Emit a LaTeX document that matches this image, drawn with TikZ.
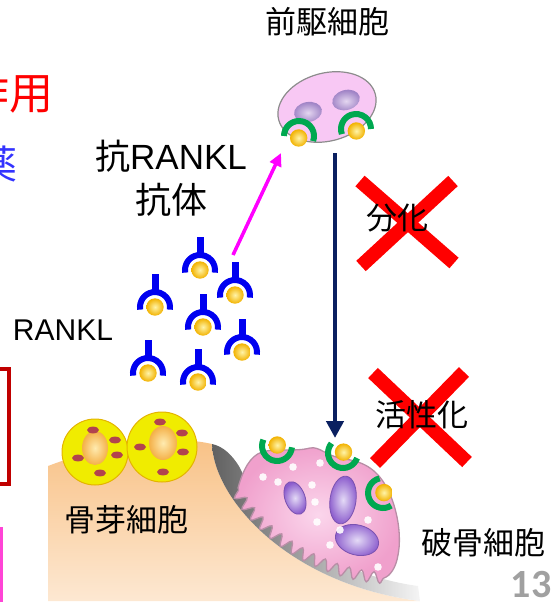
\documentclass[tikz,border=0pt]{standalone}
\usepackage{fontspec}
\setmainfont{Liberation Sans}
\newfontfamily\jp{Noto Sans CJK JP}
\newfontfamily\numfont{Carlito}
\usetikzlibrary{arrows.meta,decorations.pathmorphing}

\definecolor{abblue}{HTML}{0000F0}
\definecolor{rgreen}{HTML}{00A850}
\definecolor{ballin}{HTML}{FFF4A8}
\definecolor{ballout}{HTML}{F2B200}
\definecolor{navy}{HTML}{0A2060}
\definecolor{xred}{HTML}{FF0000}
\definecolor{boxred}{HTML}{C00000}
\definecolor{pink}{HTML}{FF44D6}
\definecolor{arrowmag}{HTML}{FF00FF}
\definecolor{precell}{HTML}{F8C8F4}
\definecolor{prenucin}{HTML}{E4D6F0}
\definecolor{prenucout}{HTML}{A084C6}
\definecolor{bonetop}{HTML}{F8C083}
\definecolor{bonebot}{HTML}{FDE8D2}
\definecolor{obfill}{HTML}{F0EC00}
\definecolor{obedge}{HTML}{E4B400}
\definecolor{obnucin}{HTML}{FFEBB0}
\definecolor{obnucout}{HTML}{F4B048}
\definecolor{obdot}{HTML}{B2434E}
\definecolor{ocin}{HTML}{FBD6EC}
\definecolor{ocout}{HTML}{F0A0CC}
\definecolor{ocedge}{HTML}{B88EA6}
\definecolor{ocnucin}{HTML}{E4DAF6}
\definecolor{ocnucout}{HTML}{8A5ACC}
\definecolor{ocnucedge}{HTML}{7A52B0}
\definecolor{pagenum}{HTML}{A0A0A0}

% receptor: green (or blue) half ring around a ligand ball; #3 = direction the opening faces
\newcommand\ligandring[5]{%
  \draw[#4, line width=6pt] (#1,#2) ++({#3+80}:15)
    arc[start angle={#3+80}, end angle={#3+280}, radius=15];
  \shade[inner color=ballin, outer color=ballout] (#1,#2) ++({#3}:#5) circle[radius=8.7];
}
% antibody: blue stem on top of a blue half ring holding a ligand ball
\newcommand\antibody[2]{%
  \fill[abblue] ({#1-3.5},{#2-33}) rectangle ({#1+3.5},{#2-16});
  \ligandring{#1}{#2}{90}{abblue}{0}
}

\begin{document}
\begin{tikzpicture}[x=1pt,y=-1pt,
  jptext/.style={font=\jp\fontsize{31pt}{36pt}\selectfont, inner sep=0pt},
  bigtext/.style={font=\fontsize{35pt}{42pt}\selectfont, inner sep=0pt},
  xmark/.style={xred, line width=14pt},
  navyarrow/.style={navy, line width=4.5pt, -{Triangle[length=17pt,width=17pt]}},
  pinkarrow/.style={arrowmag, line width=3.5pt, -{Triangle[length=13pt,width=12pt]}},
  whitedot/.style={white, opacity=0.9}]
\useasboundingbox (0,0) rectangle (551,607);

% ---- left margin fragments ----
\node[anchor=east, inner sep=0pt, text=xred, font=\jp\fontsize{44pt}{50pt}\selectfont] (sakuyo) at (54,93) {作用};
\node[anchor=east, inner sep=0pt, text=blue!80!white, font=\jp\fontsize{40pt}{46pt}\selectfont] (kusuri) at (18,164) {薬};
\draw[boxred, line width=4pt] (-60,369) rectangle (9,484);
\draw[pink, line width=3pt] (-60,528) rectangle (1.5,600);

% ---- bone ----
\shade[top color=bonetop, bottom color=bonebot]
  (48,601) -- (48,466) .. controls (90,450) and (160,432) .. (212,444)
  .. controls (214,500) and (290,585) .. (420,601) -- cycle;
% resorption surface under the osteoclast
\shade[left color=black!62, right color=black!4]
  (212,444) .. controls (214,500) and (290,585) .. (420,601)
  -- (418,586) .. controls (330,574) and (265,522) .. (240,468)
  .. controls (232,454) and (222,446) .. (212,444) -- cycle;

% ---- osteoblasts ----
\foreach \cx/\cy/\r in {95/452/33, 162/447/35}{
  \filldraw[fill=obfill, draw=obedge, line width=1pt] (\cx,\cy) circle[radius=\r];
}
\shade[inner color=obnucin, outer color=obnucout] (95,448) ellipse[x radius=13, y radius=17];
\shade[inner color=obnucin, outer color=obnucout] (163,443) ellipse[x radius=14, y radius=17];
\foreach \dx/\dy in {93/430, 115/440, 117/455, 78/458, 100/473,
                     160/422, 182/433, 140/447, 183/452, 163/472}{
  \fill[obdot] (\dx,\dy) ellipse[x radius=6, y radius=3.4];
}

% ---- osteoclast ----
\shadedraw[inner color=ocin, outer color=ocout, draw=ocedge, line width=1.3pt]
  (238,488) .. controls (243,470) and (250,456) .. (262,452)
  .. controls (275,448) and (295,452) .. (310,448)
  .. controls (320,446) and (325,456) .. (345,459)
  .. controls (365,462) and (378,470) .. (388,490)
  .. controls (397,508) and (402,535) .. (398,555)
  .. controls (396,568) and (390,576) .. (384,578)
  decorate[decoration={snake, amplitude=5.5pt, segment length=13pt}]
  { .. controls (330,575) and (265,540) .. (238,488) } -- cycle;
\foreach \nx/\ny/\rx/\ry/\rot in {295/498/10/17/20, 343/500/13/24/-8, 357/540/22/15/-15}{
  \shadedraw[inner color=ocnucin, outer color=ocnucout, draw=ocnucedge, line width=0.8pt,
    rotate around={\rot:(\nx,\ny)}] (\nx,\ny) ellipse[x radius=\rx, y radius=\ry];
}
\foreach \wx/\wy in {263/477, 278/482, 293/467, 320/463, 312/485, 315/502,
                     317/522, 340/530, 330/545, 368/520, 378/567}{
  \fill[whitedot] (\wx,\wy) circle[radius=3.8];
}
% RANK receptors with bound RANKL on the osteoclast
\ligandring{277}{446}{285}{rgreen}{1}
\ligandring{343}{453}{300}{rgreen}{1}
\ligandring{383}{493}{337}{rgreen}{1}

% ---- precursor cell ----
\filldraw[fill=precell, draw=black!45, line width=1.2pt, rotate around={15:(327,107)}]
  (327,107) ellipse[x radius=50, y radius=34];
\shade[inner color=prenucin, outer color=prenucout, rotate around={10:(308,112)}]
  (308,112) ellipse[x radius=14, y radius=10];
\shade[inner color=prenucin, outer color=prenucout, rotate around={15:(346,100)}]
  (346,100) ellipse[x radius=14, y radius=10];
\ligandring{299}{136}{100}{rgreen}{2}
\ligandring{356}{129}{80}{rgreen}{2}

% ---- free RANKL bound by antibodies ----
\antibody{200}{270}
\antibody{235}{295}
\antibody{155}{307}
\antibody{203}{327}
\antibody{242}{352}
\antibody{148}{373}
\antibody{198}{382}

% ---- blocked steps ----
\draw[xmark] (360,181) -- (454,263);
\draw[xmark] (453,181) -- (361,266);
\draw[xmark] (373,373) -- (467,462);
\draw[xmark] (464,372) -- (375,463);

% ---- arrows ----
\coordinate (abtop) at (233,255);
\coordinate (pretarget) at (281,153);
\draw[pinkarrow] (abtop) -- (pretarget);
\coordinate (prebottom) at (335,153);
\coordinate (octop) at (335,438);
\draw[navyarrow] (prebottom) -- (octop);

% ---- labels ----
\node[jptext] (zenku) at (327,22) {前駆細胞};
\node[bigtext] (anti1) at (171,156) {{\jp 抗}RANKL};
\node[bigtext, font=\jp\fontsize{36pt}{42pt}\selectfont] (anti2) at (171,200) {抗体};
\node[inner sep=0pt, font=\fontsize{30pt}{36pt}\selectfont] (rankl) at (63,330) {RANKL};
\node[jptext] (bunka) at (397,218) {分化};
\node[jptext] (kassei) at (422,415) {活性化};
\node[jptext] (kotsuga) at (126,520) {骨芽細胞};
\node[jptext] (hakotsu) at (483,543) {破骨細胞};
\node[inner sep=0pt, text=pagenum, font=\numfont\bfseries\fontsize{40pt}{46pt}\selectfont] (pnum) at (531,585) {13};
\end{tikzpicture}
\end{document}
